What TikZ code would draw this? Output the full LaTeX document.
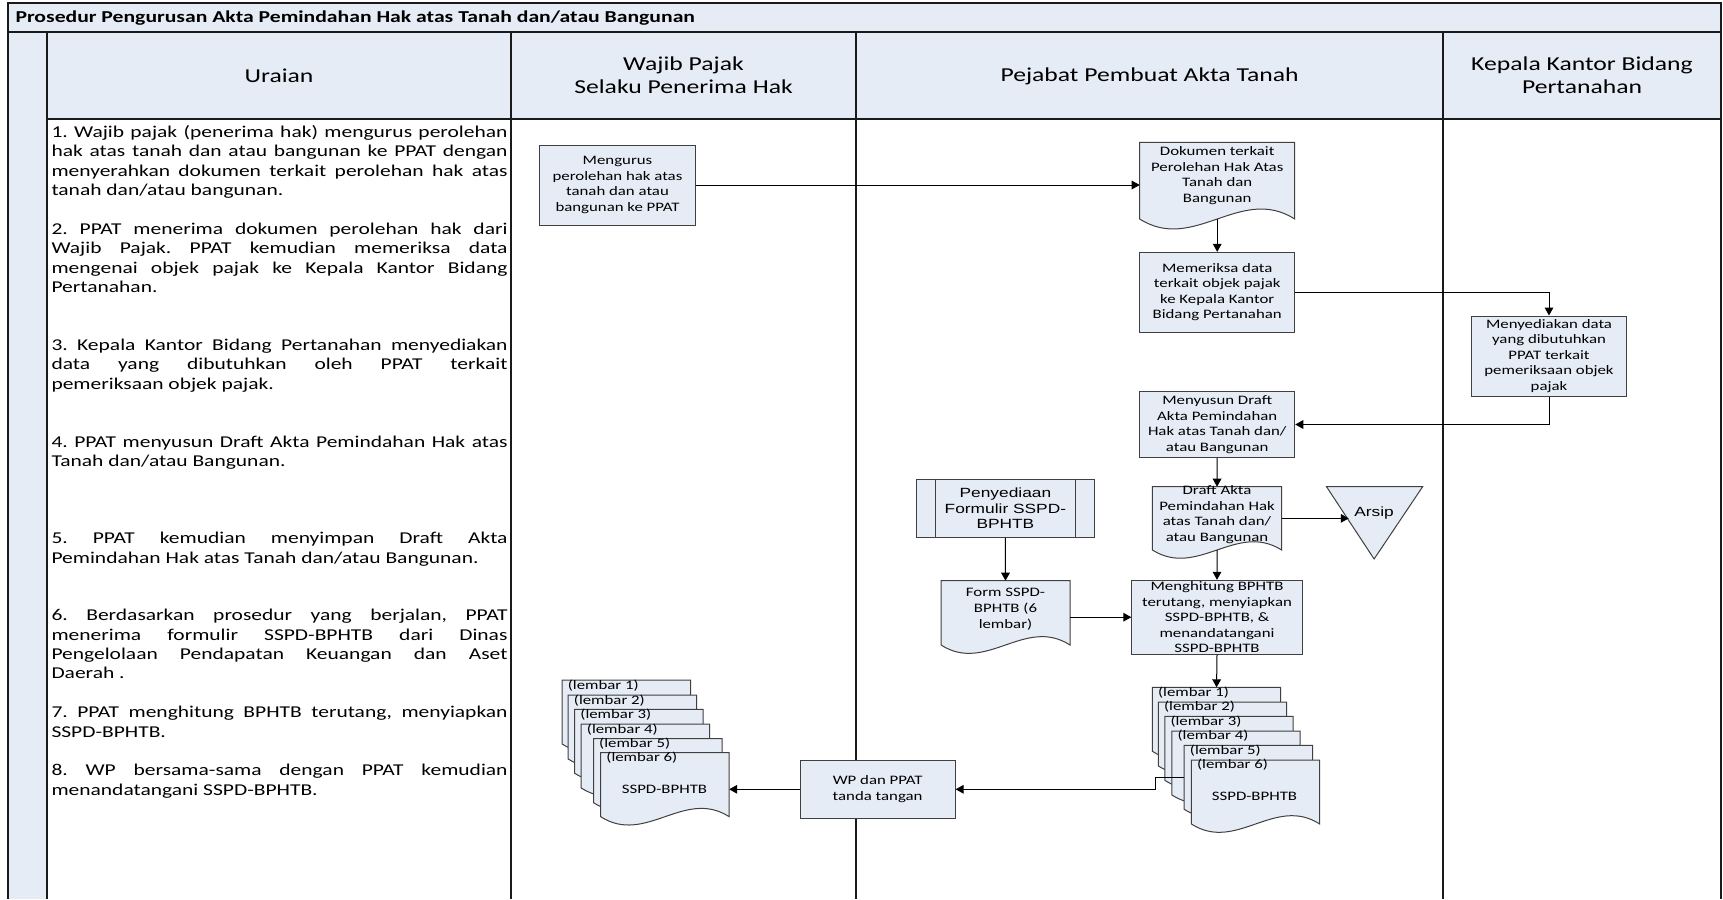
\documentclass[tikz,border=0pt]{standalone}
\usepackage{fontspec}
\setmainfont{Carlito}[FakeStretch=1.3]
\newfontfamily\arialfont{Liberation Sans}[FakeStretch=1.3]
\usetikzlibrary{arrows.meta,calc}

\hyphenpenalty=10000
\exhyphenpenalty=10000
\tolerance=10000
\frenchspacing

\tikzset{every picture/.style={line width=0.75pt},
  lane/.style={fill={rgb, 255:red, 230; green, 236; blue, 246 }},
  frame/.style={draw={rgb, 255:red, 26; green, 26; blue, 26 }, line width=1.4pt},
  laneline/.style={draw={rgb, 255:red, 26; green, 26; blue, 26 }, line width=1.1pt},
  boxnode/.style={draw={rgb, 255:red, 64; green, 64; blue, 64 }, fill={rgb, 255:red, 230; green, 236; blue, 246 }, inner sep=0pt, align=center, font=\fontsize{9.7}{11.7}\selectfont},
  docline/.style={draw={rgb, 255:red, 64; green, 64; blue, 64 }, fill={rgb, 255:red, 230; green, 236; blue, 246 }},
  docnode/.style={inner sep=0pt, outer sep=0pt},
  boxtext/.style={inner sep=0pt, align=center, font=\fontsize{9.7}{11.7}\selectfont},
  lembartext/.style={anchor=west, inner sep=0pt, font=\fontsize{9.7}{11.7}\selectfont},
  header/.style={inner sep=0pt, align=center, font=\fontsize{14.8}{17.3}\selectfont},
  uraian/.style={anchor=north west, inner sep=0pt, text width=342pt, align=justify, font=\fontsize{12.4}{14.6}\selectfont},
  flow/.style={-{Triangle[length=6pt,width=6.5pt]}}
}

% document shape: name, left, top, width, side height
\newcommand{\docsheet}[5]{%
  \draw[docline] (#2,#3) -- (#2+#4,#3) -- (#2+#4,#3+#5) .. controls (#2+0.65*#4,#3+0.55*#5) and (#2+0.35*#4,#3+1.45*#5) .. (#2,#3+#5) -- cycle;
  \node[docnode, minimum width=#4*0.75pt, minimum height=#5*0.75pt] (#1) at (#2+0.5*#4,#3+0.5*#5) {};
}

\begin{document}
\begin{tikzpicture}[x=0.75pt,y=0.75pt,yscale=-1,xscale=1]
\useasboundingbox (0,0) rectangle (1723,899);

%Shape: lanes background
\fill[lane] (8,3) rectangle (1721,32);
\fill[lane] (47,32) rectangle (1721,119);
\fill[lane] (8,32) rectangle (47,899);
%Straight Lines: frame
\draw[frame] (8,899) -- (8,3) -- (1721,3) -- (1721,899);
\draw[frame] (8,32) -- (1721,32);
\draw[laneline] (47,119) -- (1721,119);
\draw[laneline] (47,32) -- (47,899);
\draw[laneline] (511,32) -- (511,899);
\draw[laneline] (856,32) -- (856,899);
\draw[laneline] (1443,32) -- (1443,899);

% Text Node: title and headers
\node[anchor=west, inner sep=0pt, font=\bfseries\fontsize{12.5}{14}\selectfont] (judul) at (15,18) {Prosedur Pengurusan Akta Pemindahan Hak atas Tanah dan/atau Bangunan};
\node[header] (huraian) at (279,76) {Uraian};
\node[header] (hwp) at (683.5,75.5) {Wajib Pajak\\Selaku Penerima Hak};
\node[header] (hppat) at (1149.5,76) {Pejabat Pembuat Akta Tanah};
\node[header] (hkkb) at (1582,75.5) {Kepala Kantor Bidang\\Pertanahan};

% Text Node: uraian
\node[uraian] (u1) at (51,123) {\strut 1. Wajib pajak (penerima hak) mengurus perolehan\linebreak hak atas tanah dan atau bangunan ke PPAT dengan\linebreak menyerahkan dokumen terkait perolehan hak atas\linebreak tanah dan/atau bangunan.};
\node[uraian] (u2) at (51,220.4) {\strut 2. PPAT menerima dokumen perolehan hak dari\linebreak Wajib Pajak. PPAT kemudian memeriksa data\linebreak mengenai objek pajak ke Kepala Kantor Bidang\linebreak Pertanahan.};
\node[uraian] (u3) at (51,336.4) {\strut 3. Kepala Kantor Bidang Pertanahan menyediakan\linebreak data yang dibutuhkan oleh PPAT terkait\linebreak pemeriksaan objek pajak.};
\node[uraian] (u4) at (51,433) {\strut 4. PPAT menyusun Draft Akta Pemindahan Hak atas\linebreak Tanah dan/atau Bangunan.};
\node[uraian] (u5) at (51,529.7) {\strut 5. PPAT kemudian menyimpan Draft Akta\linebreak Pemindahan Hak atas Tanah dan/atau Bangunan.};
\node[uraian] (u6) at (51,606.4) {\strut 6. Berdasarkan prosedur yang berjalan, PPAT\linebreak menerima formulir SSPD-BPHTB dari Dinas\linebreak Pengelolaan Pendapatan Keuangan dan Aset\linebreak Daerah .};
\node[uraian] (u7) at (51,703.7) {\strut 7. PPAT menghitung BPHTB terutang, menyiapkan\linebreak SSPD-BPHTB.};
\node[uraian] (u8) at (51,761.7) {\strut 8. WP bersama-sama dengan PPAT kemudian\linebreak menandatangani SSPD-BPHTB.};

%Shape: Rectangle
\node[boxnode, minimum width=116.3pt, minimum height=60pt] (mengurus) at (617.5,185) {Mengurus\\perolehan hak atas\\tanah dan atau\\bangunan ke PPAT};
%Shape: Document
\docsheet{dok}{1139.7}{142.3}{155}{76.7}
\node[boxtext] (dok-t) at (1217.2,175.5) {Dokumen terkait\\Perolehan Hak Atas\\Tanah dan\\Bangunan};
%Shape: Rectangle
\node[boxnode, minimum width=116.3pt, minimum height=59.8pt] (periksa) at (1217.2,292.2) {Memeriksa data\\terkait objek pajak\\ke Kepala Kantor\\Bidang Pertanahan};
\node[boxnode, minimum width=116.3pt, minimum height=60pt] (sedia) at (1549,356) {Menyediakan data\\yang dibutuhkan\\PPAT terkait\\pemeriksaan objek\\pajak};
\node[boxnode, minimum width=116.3pt, minimum height=49.2pt] (susun) at (1217.2,424.5) {Menyusun Draft\\Akta Pemindahan\\Hak atas Tanah dan/\\atau Bangunan};
%Shape: Document
\docsheet{draft}{1152.4}{486.7}{129.2}{63.3}
\node[boxtext] (draft-t) at (1217,514.6) {Draft Akta\\Pemindahan Hak\\atas Tanah dan/\\atau Bangunan};
%Shape: Triangle
\draw[docline] (1326.5,486.7) -- (1422.6,486.7) -- (1374.1,559) -- cycle;
\node[inner sep=3.75pt, font=\arialfont\fontsize{10}{12}\selectfont] (arsip) at (1374,512.7) {Arsip};
%Shape: Predefined process
\node[boxnode, minimum width=134.1pt, minimum height=43.5pt, font=\arialfont\fontsize{10}{11.6}\selectfont] (formulir) at (1005.4,508.3) {Penyediaan\\Formulir SSPD-\\BPHTB};
\draw[docline] ($(formulir.north west)+(19.5,0)$) -- ($(formulir.south west)+(19.5,0)$);
\draw[docline] ($(formulir.north east)+(-19.5,0)$) -- ($(formulir.south east)+(-19.5,0)$);
%Shape: Document
\docsheet{form}{941}{580.7}{129}{64.3}
\node[boxtext] (form-t) at (1005.5,609.2) {Form SSPD-\\BPHTB (6\\lembar)};
%Shape: Rectangle
\node[boxnode, minimum width=127.8pt, minimum height=55.3pt] (hitung) at (1217,617.2) {Menghitung BPHTB\\terutang, menyiapkan\\SSPD-BPHTB, \&\\menandatangani\\SSPD-BPHTB};

%Shape: Document stack (PPAT)
\docsheet{ppat1}{1152.4}{687.3}{128.3}{64}
\node[lembartext] (ppat1-t) at (1157.6,692.3) {(lembar 1)};
\docsheet{ppat2}{1158.4}{702}{128.3}{64}
\node[lembartext] (ppat2-t) at (1163.6,707) {(lembar 2)};
\docsheet{ppat3}{1164.8}{716.3}{128.3}{64}
\node[lembartext] (ppat3-t) at (1170,721.3) {(lembar 3)};
\docsheet{ppat4}{1171.9}{731}{128.3}{64}
\node[lembartext] (ppat4-t) at (1177.1,736) {(lembar 4)};
\docsheet{ppat5}{1184.2}{745.3}{128.3}{64}
\node[lembartext] (ppat5-t) at (1189.4,750.3) {(lembar 5)};
\docsheet{ppat6}{1191.4}{760}{128.3}{64}
\node[lembartext] (ppat6-t) at (1196.6,765) {(lembar 6)};
\node[boxtext] (ppat6-s) at (1254.5,796) {SSPD-BPHTB};

%Shape: Document stack (WP)
\docsheet{wp1}{562.1}{680}{128.5}{64}
\node[lembartext] (wp1-t) at (567.3,685.3) {(lembar 1)};
\docsheet{wp2}{568.2}{695}{128.5}{64}
\node[lembartext] (wp2-t) at (573.4,700.3) {(lembar 2)};
\docsheet{wp3}{574.7}{709.3}{128.5}{64}
\node[lembartext] (wp3-t) at (579.9,714.6) {(lembar 3)};
\docsheet{wp4}{581.2}{724}{128.5}{64}
\node[lembartext] (wp4-t) at (586.4,729.3) {(lembar 4)};
\docsheet{wp5}{593.5}{738.7}{128.5}{64}
\node[lembartext] (wp5-t) at (598.7,744) {(lembar 5)};
\docsheet{wp6}{600.7}{752.7}{128.5}{64}
\node[lembartext] (wp6-t) at (605.9,758) {(lembar 6)};
\node[boxtext] (wp6-s) at (664.5,789) {SSPD-BPHTB};

%Shape: Rectangle
\node[boxnode, minimum width=116.3pt, minimum height=43.5pt] (ttd) at (877.6,789.3) {WP dan PPAT\\tanda tangan};

%Straight Lines: connectors
\draw[flow] (mengurus.east) -- (mengurus.east -| dok.west);
\draw[flow] (dok.south) -- (periksa.north);
\draw[flow] (periksa.east) -| (sedia.north);
\draw[flow] (sedia.south) |- (susun.east);
\draw[flow] (susun.south) -- (draft.north);
\draw[flow] (draft.east) -- (draft.east -| arsip.west);
\draw[flow] (draft.south) -- (hitung.north);
\draw[flow] (formulir.south) -- (form.north);
\draw[flow] (form.east |- hitung.west) -- (hitung.west);
\draw[flow] (hitung.south) -- (ppat1.north);
\draw[flow] (ppat5.west) -- ++(-29,0) |- (ttd.east);
\draw[flow] (ttd.west) -- (ttd.west -| wp6.east);

\end{tikzpicture}
\end{document}
